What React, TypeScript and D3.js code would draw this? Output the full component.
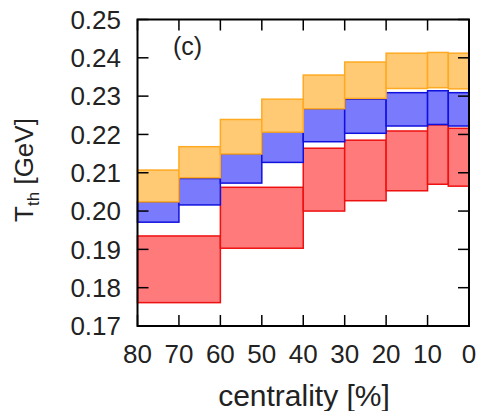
import React from "react";
import * as d3 from "d3";

const binEdges = [80, 70, 60, 50, 40, 30, 20, 10, 5, 0];
const orangeHigh = [0.2107, 0.2168, 0.2239, 0.2292, 0.2355, 0.2389, 0.2412, 0.2414, 0.2412];
const orangeLow = [0.2024, 0.2087, 0.2149, 0.2206, 0.2267, 0.2294, 0.232, 0.2322, 0.2319];
const blueHigh = [0.2024, 0.2085, 0.2149, 0.2206, 0.2267, 0.2292, 0.2309, 0.2314, 0.2309];
const blueLow = [0.1971, 0.2016, 0.2073, 0.2127, 0.2181, 0.2203, 0.2222, 0.2226, 0.2222];

const redEdges = [80, 60, 40, 30, 20, 10, 5, 0];
const redHigh = [0.1935, 0.2062, 0.2164, 0.2185, 0.2209, 0.2225, 0.2216];
const redLow = [0.1761, 0.1903, 0.2, 0.2027, 0.2053, 0.207, 0.2065];

const xTicks = [80, 70, 60, 50, 40, 30, 20, 10, 0];
const yTicks = [0.17, 0.18, 0.19, 0.2, 0.21, 0.22, 0.23, 0.24, 0.25];

const W = 481;
const H = 411;
const L = 137.5;
const R = 469;
const T = 19.5;
const B = 326;
const FONT = "'Liberation Sans', Arial, Helvetica, sans-serif";

export default function App() {
  const x = d3.scaleLinear().domain([80, 0]).range([L, R]);
  const y = d3.scaleLinear().domain([0.17, 0.25]).range([B, T]);

  const makeBoxes = (edges: number[], lo: number[], hi: number[]) =>
    lo.map((l, i) => ({ x0: x(edges[i]), x1: x(edges[i + 1]), y0: y(hi[i]), y1: y(l) }));

  const red = makeBoxes(redEdges, redLow, redHigh);
  const blue = makeBoxes(binEdges, blueLow, blueHigh);
  const orange = makeBoxes(binEdges, orangeLow, orangeHigh);

  const series = [
    { boxes: red, fill: "rgb(255,122,122)", stroke: "#ee1111" },
    { boxes: blue, fill: "rgb(122,122,252)", stroke: "#1111dd" },
    { boxes: orange, fill: "rgb(255,202,115)", stroke: "#ffaa22" },
  ];

  const tickLen = 11;

  return (
    <svg
      width={W}
      height={H}
      style={{ position: "absolute", left: 0, top: 0, background: "#fff" }}
      fontFamily={FONT}
    >
      <rect x={0} y={0} width={W} height={H} fill="#fff" />
      {series.map((s, si) => (
        <g key={si}>
          {s.boxes.map((b, i) => (
            <rect
              key={i}
              x={b.x0}
              y={b.y0}
              width={b.x1 - b.x0}
              height={b.y1 - b.y0}
              fill={s.fill}
              stroke={s.stroke}
              strokeWidth={1.5}
            />
          ))}
        </g>
      ))}
      <g stroke="#000" strokeWidth={1.5}>
        {xTicks.map((t) => (
          <g key={"xt" + t}>
            <line x1={x(t)} x2={x(t)} y1={B} y2={B - tickLen} />
            <line x1={x(t)} x2={x(t)} y1={T} y2={T + tickLen} />
          </g>
        ))}
        {yTicks.map((t) => (
          <g key={"yt" + t}>
            <line x1={L} x2={L + tickLen} y1={y(t)} y2={y(t)} />
            <line x1={R} x2={R - tickLen} y1={y(t)} y2={y(t)} />
          </g>
        ))}
      </g>
      <rect x={L} y={T} width={R - L} height={B - T} fill="none" stroke="#000" strokeWidth={2} />
      <g fontSize={26} fill="#222">
        {xTicks.map((t) => (
          <text key={"xl" + t} x={x(t)} y={363} textAnchor="middle">
            {t}
          </text>
        ))}
        {yTicks.map((t) => (
          <text key={"yl" + t} x={121} y={y(t)} dy="0.36em" textAnchor="end">
            {d3.format(".2f")(t)}
          </text>
        ))}
      </g>
      <text x={173} y={55} fontSize={25} fill="#222">
        (c)
      </text>
      <text x={304} y={406} fontSize={30} textAnchor="middle" fill="#222">
        centrality [%]
      </text>
      <text
        transform={`translate(33,170) rotate(-90)`}
        fontSize={26}
        textAnchor="middle"
        fill="#222"
      >
        T<tspan fontSize={17} dy={6}>th</tspan>
        <tspan dy={-6}> [GeV]</tspan>
      </text>
    </svg>
  );
}
